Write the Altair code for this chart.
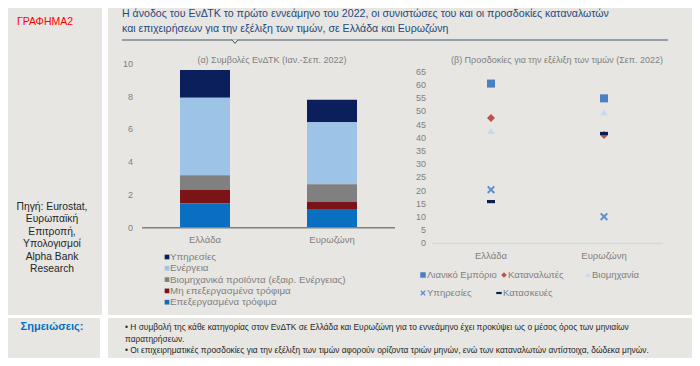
import altair as alt
import pandas as pd

# ---------------- data ----------------
countries = ["Ελλάδα", "Ευρωζώνη"]
components = [
    "Υπηρεσίες",
    "Ενέργεια",
    "Βιομηχανικά προϊόντα (εξαιρ. Ενέργειας)",
    "Μη επεξεργασμένα τρόφιμα",
    "Επεξεργασμένα τρόφιμα",
]
greece_contrib = [1.69, 4.74, 0.88, 0.83, 1.49]
euro_contrib = [1.38, 3.79, 1.06, 0.45, 1.14]
left_ticks = [0, 2, 4, 6, 8, 10]

series = ["Λιανικό Εμπόριο", "Καταναλωτές", "Βιομηχανία", "Υπηρεσίες", "Κατασκευές"]
greece_exp = [60.5, 47.5, 42.5, 20.3, 15.8]
euro_exp = [54.9, 41.0, 49.5, 10.1, 41.6]
right_ticks = list(range(0, 70, 5))

title_lines = [
    "Η άνοδος του ΕνΔΤΚ το πρώτο εννεάμηνο του 2022, οι συνιστώσες του και οι προσδοκίες καταναλωτών",
    "και επιχειρήσεων για την εξέλιξη των τιμών, σε Ελλάδα και Ευρωζώνη",
]
source_lines = ["Πηγή: Eurostat,", "Ευρωπαϊκή", "Επιτροπή,", "Υπολογισμοί", "Alpha Bank", "Research"]
notes_lines = [
    "•  Η συμβολή της κάθε κατηγορίας στον ΕνΔΤΚ σε Ελλάδα και Ευρωζώνη για το εννεάμηνο έχει προκύψει ως ο μέσος όρος των μηνιαίων",
    "    παρατηρήσεων.",
    "•  Οι επιχειρηματικές προσδοκίες για την εξέλιξη των τιμών αφορούν ορίζοντα τριών μηνών, ενώ των καταναλωτών αντίστοιχα, δώδεκα μηνών.",
]

# ---------------- styles ----------------
FONT = "Liberation Sans, Arial, sans-serif"
PANEL = "#e7e6e2"
AXIS_TXT = "#7f7f7f"
OFF = 8  # page margin

bar_colors = ["#0b1f5c", "#9dc3e6", "#808080", "#7b1416", "#0b6fc1"]
pt_colors = ["#4a7fc1", "#c0504d", "#c9daf0", "#5b8fd4", "#0d1f4f"]
pt_shapes = [
    "M-1,-1L1,-1L1,1L-1,1Z",
    "M0,-1L1,0L0,1L-1,0Z",
    "M0,-0.75L1,0.75L-1,0.75Z",
    "M-1,-0.65L-0.65,-1L0,-0.35L0.65,-1L1,-0.65L0.35,0L1,0.65L0.65,1L0,0.35L-0.65,1L-1,0.65L-0.35,0Z",
    "M-1,-0.4L1,-0.4L1,0.4L-1,0.4Z",
]

xL = alt.Scale(type="point", domain=countries, range=[205 - OFF, 332 - OFF], padding=0)
yL = alt.Scale(domain=[0, 10], range=[227.7 - OFF, 64 - OFF], nice=False, zero=False)
xR = alt.Scale(type="point", domain=countries, range=[491 - OFF, 604 - OFF], padding=0)
yR = alt.Scale(domain=[0, 65], range=[243.3 - OFF, 71.7 - OFF], nice=False, zero=False)
colL = alt.Scale(domain=components, range=bar_colors)
colR = alt.Scale(domain=series, range=pt_colors)
shpR = alt.Scale(domain=series, range=pt_shapes)


def one():
    return pd.DataFrame({"a": [0]})


def panel(x0, y0, x1, y1, color=PANEL):
    return alt.Chart(one()).mark_rect(color=color).encode(
        x=alt.value(x0 - OFF), x2=alt.value(x1 - OFF),
        y=alt.value(y0 - OFF), y2=alt.value(y1 - OFF))


def label(s, x, y, size=9, color=AXIS_TXT, align="left", font=FONT, weight="normal"):
    return alt.Chart(pd.DataFrame({"t": [s]})).mark_text(
        align=align, baseline="middle", fontSize=size, color=color, font=font,
        fontWeight=weight).encode(x=alt.value(x - OFF), y=alt.value(y - OFF), text="t:N")


layers = []
# backgrounds
layers += [panel(0, 0, 102, 315), panel(108, 0, 693, 315),
           panel(0, 318, 100, 360), panel(108, 318, 693, 360)]

# header
layers.append(label("ΓΡΑΦΗΜΑ2", 45, 22, size=10.5, color="#ff0000", align="center"))
for i, s in enumerate(title_lines):
    layers.append(label(s, 122, 14 + 15 * i, size=10.6, color="#1f497d"))
layers.append(alt.Chart(one()).mark_rule(color="#44546a", strokeWidth=1).encode(
    x=alt.value(122 - OFF), x2=alt.value(668 - OFF), y=alt.value(40 - OFF)))
layers.append(alt.Chart(one()).mark_point(
    shape="M-1,-0.6L0,0.6L1,-0.6", filled=False, stroke="#44546a", strokeWidth=1,
    size=40, fill=PANEL, fillOpacity=1).encode(x=alt.value(235 - OFF), y=alt.value(41.5 - OFF)))

# source & notes
for i, s in enumerate(source_lines):
    layers.append(label(s, 52, 207 + 12.4 * i, size=10.3, color="#262626", align="center"))
layers.append(label("Σημειώσεις:", 52, 327, size=11, color="#0070c0", align="center", weight="bold"))
for i, s in enumerate(notes_lines):
    layers.append(label(s, 125, 327 + 11.5 * i, size=8.4, color="#262626"))

# ---------------- left chart ----------------
bars = pd.DataFrame({
    "country": [countries[0]] * 5 + [countries[1]] * 5,
    "component": components * 2,
    "value": greece_contrib + euro_contrib,
    "ord": [4, 3, 2, 1, 0] * 2,
})
layers.append(label("(α) Συμβολές ΕνΔΤΚ (Ιαν.-Σεπ. 2022)", 272, 60, size=9, align="center"))
layers.append(alt.Chart(bars).mark_bar(size=50).encode(
    x=alt.X("country:N", scale=xL, axis=None),
    y=alt.Y("value:Q", scale=yL, axis=None, stack="zero"),
    color=alt.Color("component:N", scale=colL, legend=None),
    order=alt.Order("ord:Q", sort="ascending"),
))
layers.append(alt.Chart(pd.DataFrame({"v": [0]})).mark_rule(color="#808080", strokeWidth=1.5).encode(
    y=alt.Y("v:Q", scale=yL, axis=None), x=alt.value(142 - OFF), x2=alt.value(395 - OFF)))
layers.append(alt.Chart(pd.DataFrame({"v": left_ticks})).mark_text(
    align="right", baseline="middle", fontSize=9, color=AXIS_TXT, font=FONT).encode(
    y=alt.Y("v:Q", scale=yL, axis=None), x=alt.value(133 - OFF), text="v:Q"))
layers.append(alt.Chart(pd.DataFrame({"c": countries})).mark_text(
    align="center", baseline="middle", fontSize=9.5, color=AXIS_TXT, font=FONT).encode(
    x=alt.X("c:N", scale=xL, axis=None), y=alt.value(240 - OFF), text="c:N"))

legL = pd.DataFrame({
    "component": components,
    "lx": [167 - OFF] * 5,
    "ly": [257 - OFF + 11.3 * i for i in range(5)],
})
layers.append(alt.Chart(legL).mark_point(shape="square", filled=True, size=22, opacity=1).encode(
    x=alt.X("lx:Q", scale=None, axis=None), y=alt.Y("ly:Q", scale=None, axis=None),
    color=alt.Color("component:N", scale=colL, legend=None)))
layers.append(alt.Chart(legL).mark_text(
    align="left", baseline="middle", fontSize=9.8, color=AXIS_TXT, font=FONT, dx=3).encode(
    x=alt.X("lx:Q", scale=None, axis=None), y=alt.Y("ly:Q", scale=None, axis=None), text="component:N"))

# ---------------- right chart ----------------
pts = pd.DataFrame({
    "country": [countries[0]] * 5 + [countries[1]] * 5,
    "series": series * 2,
    "value": greece_exp + euro_exp,
    "ord": list(range(5)) * 2,
})
layers.append(label("(β) Προσδοκίες για την εξέλιξη των τιμών (Σεπ. 2022)", 557, 60, size=9, align="center"))
layers.append(alt.Chart(pd.DataFrame({"v": [0]})).mark_rule(color="#d4d4d4", strokeWidth=1).encode(
    y=alt.Y("v:Q", scale=yR, axis=None), x=alt.value(432 - OFF), x2=alt.value(663 - OFF)))
layers.append(alt.Chart(pd.DataFrame({"v": right_ticks})).mark_text(
    align="right", baseline="middle", fontSize=9, color=AXIS_TXT, font=FONT).encode(
    y=alt.Y("v:Q", scale=yR, axis=None), x=alt.value(426 - OFF), text="v:Q"))
layers.append(alt.Chart(pd.DataFrame({"c": countries})).mark_text(
    align="center", baseline="middle", fontSize=9.5, color=AXIS_TXT, font=FONT).encode(
    x=alt.X("c:N", scale=xR, axis=None), y=alt.value(256 - OFF), text="c:N"))
layers.append(alt.Chart(pts).mark_point(filled=True, size=64, opacity=1).encode(
    x=alt.X("country:N", scale=xR, axis=None),
    y=alt.Y("value:Q", scale=yR, axis=None),
    color=alt.Color("series:N", scale=colR, legend=None),
    shape=alt.Shape("series:N", scale=shpR, legend=None),
    order=alt.Order("ord:Q"),
))

legR = pd.DataFrame({
    "series": series,
    "lx": [423 - OFF, 504 - OFF, 588 - OFF, 423 - OFF, 499 - OFF],
    "ly": [275 - OFF, 275 - OFF, 275 - OFF, 293 - OFF, 293 - OFF],
})
layers.append(alt.Chart(legR).mark_point(filled=True, size=30, opacity=1).encode(
    x=alt.X("lx:Q", scale=None, axis=None), y=alt.Y("ly:Q", scale=None, axis=None),
    color=alt.Color("series:N", scale=colR, legend=None),
    shape=alt.Shape("series:N", scale=shpR, legend=None)))
layers.append(alt.Chart(legR).mark_text(
    align="left", baseline="middle", fontSize=9.5, color=AXIS_TXT, font=FONT, dx=4).encode(
    x=alt.X("lx:Q", scale=None, axis=None), y=alt.Y("ly:Q", scale=None, axis=None), text="series:N"))

chart = alt.layer(*layers).resolve_scale(
    x="independent", y="independent", color="independent", shape="independent"
).properties(
    width=684, height=350, autosize=alt.AutoSizeParams(type="none"), padding=0, background="white"
).configure_view(stroke=None)

chart.save("out.html", embed_options={"renderer": "svg", "actions": False})
